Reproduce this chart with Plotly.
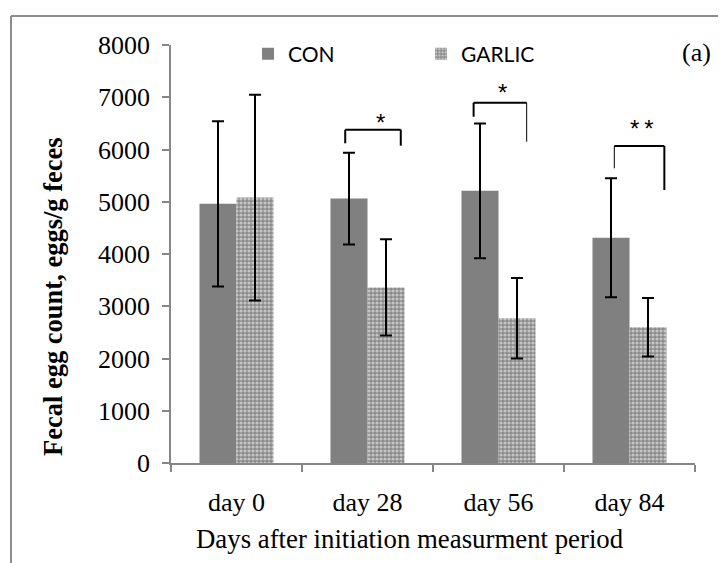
import plotly.graph_objects as go

# ---- data ----
categories = ["day 0", "day 28", "day 56", "day 84"]
con_mean = [4960, 5060, 5210, 4310]
con_err = [1580, 880, 1290, 1140]
garlic_mean = [5080, 3360, 2770, 2600]
garlic_err = [1970, 920, 770, 560]
y_ticks = [0, 1000, 2000, 3000, 4000, 5000, 6000, 7000, 8000]

# significance brackets (category-index units for x, data units for y)
br_left = [0.83, 1.81, 2.884]
br_right = [1.254, 2.215, 3.266]
br_top = [6379, 6896, 6067]
br_left_bottom = [6119, 6628, 5640]
br_right_bottom = [6073, 6150, 5225]
br_left_w = [2, 2, 1]
br_right_w = [2, 1, 2]
star_x = [1.10, 2.03, 3.095]
star_y = [6520, 7095, 6410]
star_text = ["*", "*", "*\u2009*"]

GREY = "#808080"
AXIS = "#868686"
SERIF = "Liberation Serif"

fig = go.Figure()
fig.add_trace(go.Bar(
    x=categories, y=con_mean, name="CON",
    marker=dict(color=GREY, line=dict(width=0)),
    error_y=dict(type="data", array=con_err, color="black", thickness=2, width=6),
))
fig.add_trace(go.Bar(
    x=categories, y=garlic_mean, name="GARLIC",
    marker=dict(color="#a0a0a0", line=dict(width=0),
                pattern=dict(shape=".", bgcolor="#8a8a8a", fgcolor="white",
                             size=4, solidity=0.5)),
    error_y=dict(type="data", array=garlic_err, color="black", thickness=2, width=6),
))

shapes = []
for i in range(len(br_left)):
    shapes.append(dict(type="line", xref="x", yref="y", x0=br_left[i], x1=br_right[i],
                       y0=br_top[i], y1=br_top[i], line=dict(color="black", width=2)))
    shapes.append(dict(type="line", xref="x", yref="y", x0=br_left[i], x1=br_left[i],
                       y0=br_top[i], y1=br_left_bottom[i], line=dict(color="black", width=br_left_w[i])))
    shapes.append(dict(type="line", xref="x", yref="y", x0=br_right[i], x1=br_right[i],
                       y0=br_top[i], y1=br_right_bottom[i], line=dict(color="black", width=br_right_w[i])))

# outer frame (top and left edges visible)
shapes.append(dict(type="line", xref="paper", yref="paper", x0=-0.3053, x1=1.2,
                   y0=1.0694, y1=1.0694, line=dict(color="#8c8c8c", width=2)))
shapes.append(dict(type="line", xref="paper", yref="paper", x0=-0.3053, x1=-0.3053,
                   y0=1.0694, y1=-0.3, line=dict(color="#8c8c8c", width=2)))

annotations = []
for i in range(len(star_x)):
    annotations.append(dict(x=star_x[i], y=star_y[i], xref="x", yref="y", text=star_text[i],
                            showarrow=False, font=dict(family="Liberation Sans", size=24, color="black"),
                            xanchor="center", yanchor="middle"))
annotations.append(dict(x=1.0038, y=0.981, xref="paper", yref="paper", text="(a)", showarrow=False,
                        font=dict(family=SERIF, size=26, color="black"),
                        xanchor="center", yanchor="middle"))
annotations.append(dict(x=-0.2252, y=0.3995, xref="paper", yref="paper",
                        text="<b>Fecal egg count, eggs/g feces</b>", textangle=-90, showarrow=False,
                        font=dict(family=SERIF, size=26.5, color="black"),
                        xanchor="center", yanchor="middle"))
annotations.append(dict(x=0.456, y=-0.182, xref="paper", yref="paper",
                        text="Days after initiation measurment period", showarrow=False,
                        font=dict(family=SERIF, size=26.8, color="black"),
                        xanchor="center", yanchor="middle"))

fig.update_layout(
    width=718, height=555,
    margin=dict(l=163, r=31, t=37, b=100),
    paper_bgcolor="white", plot_bgcolor="white",
    barmode="group", bargap=0.435, bargroupgap=0,
    showlegend=True,
    legend=dict(orientation="h", x=0.147, y=0.978, xanchor="left", yanchor="middle",
                font=dict(family="Lato", size=21, color="black"),
                entrywidth=128, entrywidthmode="pixels", bgcolor="rgba(0,0,0,0)"),
    shapes=shapes,
    annotations=annotations,
    xaxis=dict(type="category", showline=True, linecolor=AXIS, linewidth=1.5,
               ticks="outside", tickson="boundaries", ticklen=7, tickcolor=AXIS, tickwidth=1.5,
               tickfont=dict(family=SERIF, size=26, color="black"),
               ticklabelstandoff=15,
               showgrid=False, zeroline=False),
    yaxis=dict(range=[0, 8000], tickvals=y_ticks, showline=True, linecolor=AXIS, linewidth=1.5,
               ticks="outside", ticklen=7, tickcolor=AXIS, tickwidth=1.5,
               tickfont=dict(family=SERIF, size=26, color="black"),
               ticklabelstandoff=7,
               showgrid=False, zeroline=False),
)

fig.write_html("out.html")
